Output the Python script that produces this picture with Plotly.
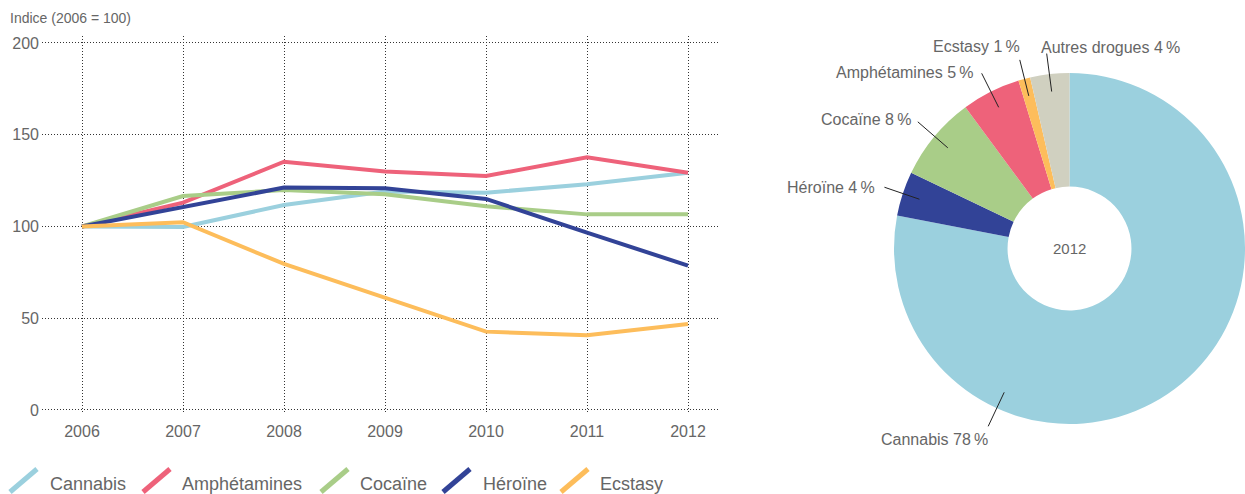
import math
import plotly.graph_objects as go

W, H = 1245, 494

# --- data ---------------------------------------------------------------
YEARS = [2006, 2007, 2008, 2009, 2010, 2011, 2012]
CANNABIS = [100, 99.7, 111.7, 119.0, 118.4, 123.0, 129.3]
AMPHETAMINES = [100, 113.0, 135.3, 130.0, 127.5, 137.7, 129.3]
COCAINE = [100, 116.6, 119.9, 117.5, 111.0, 106.6, 106.6]
HEROINE = [100, 110.8, 121.2, 120.8, 115.0, 96.6, 78.7]
ECSTASY = [100, 102.3, 79.6, 61.0, 42.7, 40.7, 46.9]

SHARE_LABELS = ["Cannabis", "Héroïne", "Cocaïne", "Amphétamines", "Ecstasy", "Autres drogues"]
SHARE_2012 = [78.0, 4.1, 7.8, 5.4, 1.1, 3.6]

COLORS = {
    "Cannabis":       "#9BD0DE",
    "Amphétamines":   "#EE627A",
    "Cocaïne":        "#A9CD88",
    "Héroïne":        "#324397",
    "Ecstasy":        "#FDBD5B",
    "Autres drogues": "#D0D0C0",
}

FONT = "Liberation Sans, Arial, sans-serif"
GREY = "#666666"


def px_to_paper(px, py):
    return px / W, 1 - py / H


fig = go.Figure()

series = [
    ("Cannabis", CANNABIS),
    ("Amphétamines", AMPHETAMINES),
    ("Cocaïne", COCAINE),
    ("Héroïne", HEROINE),
    ("Ecstasy", ECSTASY),
]
for name, vals in series:
    fig.add_trace(go.Scatter(
        x=YEARS, y=vals, name=name, mode="lines",
        line=dict(color=COLORS[name], width=4),
        showlegend=False,
        hovertemplate=f"<b>{name}</b><br>%{{x}}: %{{y:.0f}}<extra></extra>",
    ))

# hand-drawn legend: slanted stroke + label (glyph left x, text left x)
LEGEND_POS = {
    "Cannabis":     (10, 48),
    "Amphétamines": (143, 180),
    "Cocaïne":      (321, 358),
    "Héroïne":      (443, 481),
    "Ecstasy":      (561, 598),
}
for name, _ in series:
    gx, tx = LEGEND_POS[name]
    x0, y0 = px_to_paper(gx, 492)
    x1, y1 = px_to_paper(gx + 27, 469)
    fig.add_shape(type="line", xref="paper", yref="paper",
                  x0=x0, y0=y0, x1=x1, y1=y1,
                  line=dict(color=COLORS[name], width=5))
    ax, ay = px_to_paper(tx, 484)
    fig.add_annotation(xref="paper", yref="paper", x=ax, y=ay, text=name,
                       showarrow=False, xanchor="left", yanchor="middle",
                       font=dict(size=18, color=GREY, family=FONT))

# --- donut --------------------------------------------------------------
PIE_CX, PIE_CY, PIE_R = 1069.5, 248.5, 175.5   # pixels
fig.add_trace(go.Pie(
    labels=SHARE_LABELS, values=SHARE_2012,
    marker=dict(colors=[COLORS[l] for l in SHARE_LABELS], line=dict(width=0)),
    hole=0.353, sort=False, direction="clockwise", rotation=0,
    textinfo="none", showlegend=False,
    domain=dict(x=[(PIE_CX - PIE_R) / W, min(1, (PIE_CX + PIE_R) / W)],
                y=[1 - (PIE_CY + PIE_R) / H, 1 - (PIE_CY - PIE_R) / H]),
    hovertemplate="<b>%{label}</b><br>%{value:.0f} %<extra></extra>",
))

# label placement: position along wedge, tail offset, text anchor, text offset
LABEL_STYLE = {
    "Cannabis":       (0.728, (-16, 34), "center", (-54, 13)),
    "Héroïne":        (0.5, (-35, -12), "right", (-7, 0)),
    "Cocaïne":        (0.5, (-30, -26), "right", (-5, -2)),
    "Amphétamines":   (0.5, (-17, -34), "right", (-6, -1)),
    "Ecstasy":        (0.5, (-9, -36), "right", (2, -13)),
    "Autres drogues": (0.5, (-5, -38), "left", (-8, -6)),
}

total = sum(SHARE_2012)
cum = 0.0
for label, val in zip(SHARE_LABELS, SHARE_2012):
    pos, (tdx, tdy), anchor, (ldx, ldy) = LABEL_STYLE[label]
    frac = (cum + val * pos) / total
    cum += val
    ang = 2 * math.pi * frac
    r_tip = 0.9 * PIE_R
    tipx = PIE_CX + r_tip * math.sin(ang)
    tipy = PIE_CY - r_tip * math.cos(ang)
    tailx, taily = tipx + tdx, tipy + tdy
    x0, y0 = px_to_paper(tipx, tipy)
    x1, y1 = px_to_paper(tailx, taily)
    fig.add_shape(type="line", xref="paper", yref="paper",
                  x0=x0, y0=y0, x1=x1, y1=y1,
                  line=dict(color="#222222", width=1))
    tx, ty = px_to_paper(tailx + ldx, taily + ldy)
    fig.add_annotation(xref="paper", yref="paper", x=tx, y=ty,
                       text=f"{label} {round(val)}\u2009%", showarrow=False,
                       xanchor=anchor, yanchor="middle",
                       font=dict(size=16, color=GREY, family=FONT))

cx, cy = px_to_paper(PIE_CX, PIE_CY)
fig.add_annotation(xref="paper", yref="paper", x=cx, y=cy, text="2012",
                   showarrow=False, xanchor="center", yanchor="middle",
                   font=dict(size=15, color=GREY, family=FONT))

tx, ty = px_to_paper(8, 18)
fig.add_annotation(xref="paper", yref="paper", x=tx, y=ty,
                   text="Indice (2006 = 100)", showarrow=False,
                   xanchor="left", yanchor="middle",
                   font=dict(size=14, color=GREY, family=FONT))

fig.update_layout(
    width=W, height=H,
    margin=dict(l=0, r=0, t=0, b=0),
    paper_bgcolor="white", plot_bgcolor="white",
    font=dict(family=FONT, size=16, color=GREY),
    showlegend=False,
    xaxis=dict(domain=[42 / W, 718 / W], range=[2005.604, 2012.297],
               tickmode="array", tickvals=YEARS, showline=False,
               showgrid=True, gridcolor="#333333", gridwidth=1, griddash="1px,2px",
               zeroline=False, ticks="", ticklabelstandoff=8, automargin=False,
               tickfont=dict(size=16, color=GREY)),
    yaxis=dict(domain=[1 - 412 / H, 1 - 36 / H], range=[-1.1, 203.8],
               tickvals=[0, 50, 100, 150, 200], showline=False,
               showgrid=True, gridcolor="#333333", gridwidth=1, griddash="1px,2px",
               zeroline=False, ticks="", ticklabelstandoff=2, automargin=False,
               tickfont=dict(size=16, color=GREY)),
)

# pin the graph to the window corner (no default body margin)
PIN = (
    "document.body.style.margin='0';"
    "document.body.style.overflow='hidden';"
    "var gd=document.getElementById('{plot_id}');"
    "gd.style.position='fixed';gd.style.left='0';gd.style.top='0';"
)

fig.write_html("out.html", config={"displayModeBar": False}, post_script=PIN)
